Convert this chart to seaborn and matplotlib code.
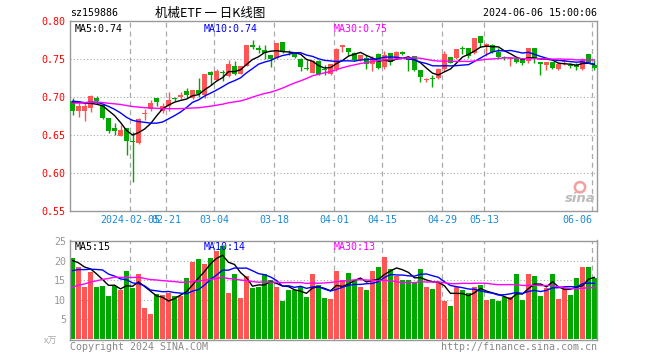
import numpy as np
import pandas as pd
import matplotlib
matplotlib.use("Agg")
import matplotlib.pyplot as plt
import seaborn as sns

# ---------------- data ----------------
opens = [0.6943, 0.6812, 0.6812, 0.6851, 0.6978, 0.6895, 0.6716, 0.6594, 0.6489, 0.6585,
         0.6420, 0.6388, 0.6773, 0.6834, 0.6978, 0.6812, 0.6873, 0.6985, 0.6996, 0.7083,
         0.6987, 0.7092, 0.7018, 0.7325, 0.7215, 0.7325, 0.7276, 0.7408, 0.7303, 0.7408,
         0.7684, 0.7636, 0.7610, 0.7544, 0.7504, 0.7715, 0.7595, 0.7580, 0.7500, 0.7372,
         0.7316, 0.7474, 0.7361, 0.7298, 0.7360, 0.7654, 0.7645, 0.7570, 0.7478, 0.7509,
         0.7430, 0.7557, 0.7386, 0.7570, 0.7513, 0.7588, 0.7495, 0.7535, 0.7351, 0.7215,
         0.7245, 0.7241, 0.7360, 0.7526, 0.7504, 0.7645, 0.7636, 0.7579, 0.7798, 0.7667,
         0.7680, 0.7588, 0.7521, 0.7491, 0.7513, 0.7500, 0.7469, 0.7636, 0.7457, 0.7412,
         0.7457, 0.7360, 0.7451, 0.7412, 0.7421, 0.7360, 0.7557, 0.7412]
closes = [0.6812, 0.6873, 0.6873, 0.7017, 0.6939, 0.6716, 0.6550, 0.6550, 0.6559, 0.6419,
          0.6410, 0.6712, 0.6780, 0.6913, 0.6926, 0.6873, 0.6960, 0.6975, 0.7026, 0.7018,
          0.7092, 0.7031, 0.7294, 0.7281, 0.7333, 0.7316, 0.7430, 0.7298, 0.7399, 0.7675,
          0.7649, 0.7610, 0.7570, 0.7491, 0.7710, 0.7591, 0.7585, 0.7518, 0.7395, 0.7368,
          0.7474, 0.7298, 0.7355, 0.7425, 0.7632, 0.7675, 0.7588, 0.7478, 0.7544, 0.7430,
          0.7513, 0.7377, 0.7544, 0.7460, 0.7588, 0.7557, 0.7480, 0.7351, 0.7259, 0.7237,
          0.7228, 0.7360, 0.7557, 0.7447, 0.7623, 0.7627, 0.7535, 0.7776, 0.7702, 0.7689,
          0.7588, 0.7526, 0.7513, 0.7513, 0.7460, 0.7447, 0.7636, 0.7504, 0.7434, 0.7457,
          0.7382, 0.7434, 0.7465, 0.7403, 0.7390, 0.7500, 0.7447, 0.7382]
highs = [0.6987, 0.6930, 0.6930, 0.7025, 0.7017, 0.6904, 0.6716, 0.6650, 0.6633, 0.6585,
         0.6541, 0.6720, 0.6834, 0.6956, 0.6978, 0.6913, 0.7066, 0.7000, 0.7061, 0.7110,
         0.7092, 0.7250, 0.7300, 0.7342, 0.7368, 0.7351, 0.7478, 0.7465, 0.7410, 0.7684,
         0.7750, 0.7684, 0.7684, 0.7544, 0.7710, 0.7724, 0.7616, 0.7588, 0.7504, 0.7487,
         0.7478, 0.7478, 0.7412, 0.7425, 0.7640, 0.7680, 0.7645, 0.7588, 0.7548, 0.7544,
         0.7535, 0.7579, 0.7600, 0.7570, 0.7597, 0.7601, 0.7510, 0.7535, 0.7351, 0.7250,
         0.7289, 0.7382, 0.7601, 0.7526, 0.7632, 0.7667, 0.7645, 0.7776, 0.7798, 0.7710,
         0.7689, 0.7645, 0.7535, 0.7513, 0.7513, 0.7513, 0.7636, 0.7636, 0.7457, 0.7457,
         0.7457, 0.7457, 0.7474, 0.7447, 0.7447, 0.7513, 0.7557, 0.7482]
lows = [0.6764, 0.6733, 0.6680, 0.6803, 0.6900, 0.6703, 0.6524, 0.6493, 0.6480, 0.6235,
        0.5881, 0.6375, 0.6690, 0.6812, 0.6873, 0.6790, 0.6812, 0.6948, 0.6965, 0.6987,
        0.6974, 0.7000, 0.6987, 0.7149, 0.7206, 0.7206, 0.7263, 0.7285, 0.7294, 0.7399,
        0.7632, 0.7570, 0.7491, 0.7395, 0.7500, 0.7580, 0.7555, 0.7504, 0.7333, 0.7355,
        0.7307, 0.7285, 0.7285, 0.7285, 0.7338, 0.7588, 0.7544, 0.7465, 0.7469, 0.7360,
        0.7333, 0.7360, 0.7360, 0.7412, 0.7500, 0.7544, 0.7340, 0.7338, 0.7197, 0.7193,
        0.7132, 0.7228, 0.7338, 0.7438, 0.7491, 0.7566, 0.7513, 0.7566, 0.7658, 0.7535,
        0.7579, 0.7500, 0.7478, 0.7403, 0.7447, 0.7412, 0.7447, 0.7447, 0.7285, 0.7355,
        0.7360, 0.7351, 0.7412, 0.7377, 0.7351, 0.7351, 0.7438, 0.7351]
volumes = [20.8, 18.5, 13.4, 17.2, 13.4, 13.6, 10.9, 13.6, 12.4, 17.5,
           12.9, 16.5, 7.8, 6.3, 11.4, 11.2, 11.6, 10.9, 10.9, 15.7,
           19.8, 20.6, 19.3, 20.8, 22.6, 23.9, 11.6, 16.5, 10.4, 16.0,
           12.9, 13.2, 16.5, 15.0, 13.4, 9.6, 12.4, 12.4, 13.2, 10.6,
           16.5, 13.9, 10.4, 10.1, 17.5, 15.2, 17.0, 15.0, 13.2, 12.4,
           17.3, 18.5, 21.1, 17.8, 16.2, 15.0, 15.0, 14.2, 18.0, 13.2,
           12.7, 14.4, 9.6, 8.3, 13.2, 12.4, 11.6, 13.4, 13.9, 9.8,
           10.1, 9.6, 10.6, 10.6, 16.7, 9.8, 16.7, 16.2, 10.9, 12.9,
           16.5, 10.1, 12.9, 11.1, 15.5, 18.3, 18.5, 15.5]
# sessions before the visible window (only feed the moving averages)
prior_close = [0.684, 0.679, 0.681, 0.686, 0.690, 0.683, 0.678, 0.680, 0.684, 0.681,
               0.694, 0.699, 0.703, 0.705, 0.701, 0.698, 0.700,
               0.697, 0.694, 0.692, 0.695, 0.699, 0.697, 0.694, 0.693, 0.688, 0.693, 0.703, 0.700]
prior_vol = [3.0, 3.6, 2.8, 3.4, 3.1, 3.5, 3.2,
             14.2, 16.8, 15.0, 13.9, 17.2, 15.6, 14.1, 16.3, 15.5, 14.8, 16.0, 15.1, 14.4,
             15.8, 13.6, 16.2, 14.0, 14.9,
             21.5, 18.8, 19.6, 19.8]
date_labels = ["2024-02-05", "02-21", "03-04", "03-18", "04-01", "04-15", "04-29", "05-13", "06-06"]
date_index = [10, 16, 24, 34, 44, 52, 62, 69, 87]
price_ticks = [0.55, 0.60, 0.65, 0.70, 0.75, 0.80]
vol_ticks = [5, 10, 15, 20, 25]

# ---------------- style ----------------
sns.set_theme(style="white")
plt.rcParams["font.family"] = ["DejaVu Sans Mono", "Noto Sans CJK SC"]

RED = "#FF5555"
GREEN = "#00A800"
GRID = "#AAAAAA"
SPINE = "#999999"
BLUE_TXT = "#1A8AD4"
MA_COLORS = {5: "#000000", 10: "#0000FF", 30: "#FF00FF"}

n = len(closes)
x = np.arange(n)
up = np.array(closes) >= np.array(opens)
colors = np.where(up, RED, GREEN)

full_close = pd.Series(prior_close + closes)
full_vol = pd.Series(prior_vol + volumes)
k = len(prior_close)
ma_price = {p: full_close.rolling(p).mean().values[k:] for p in (5, 10, 30)}
ma_vol = {p: full_vol.rolling(p).mean().values[k:] for p in (5, 10, 30)}

W, H = 660, 360
fig = plt.figure(figsize=(6.6, 3.6), dpi=100)
fig.patch.set_facecolor("white")

def fx(px):
    return px / W

def fy(py):
    return 1 - py / H

L, R = 70, 597
ax = fig.add_axes([fx(L), fy(211), fx(R - L), fy(20.7) - fy(211)])
axv = fig.add_axes([fx(L), fy(339.5), fx(R - L), fy(240.5) - fy(339.5)])

xlim = (-0.42, n - 0.58)
vpos = [i - 0.42 for i in date_index]

for a in (ax, axv):
    a.set_facecolor("white")
    for s in a.spines.values():
        s.set_color(SPINE)
        s.set_linewidth(1.0)
    a.set_xlim(*xlim)
    for v in vpos:
        a.axvline(v, color=GRID, lw=0.9, ls=(0, (4, 3)), zorder=0)

# ---------------- price panel ----------------
ax.set_ylim(0.55, 0.80)
for t in price_ticks[1:-1]:
    ax.axhline(t, color=GRID, lw=0.8, ls=(0, (1, 2)), zorder=0)

body_w = 0.78
for i in range(n):
    o, c, h, l = opens[i], closes[i], highs[i], lows[i]
    col = colors[i]
    ax.vlines(i, l, h, color=col, lw=1.0, zorder=2)
    bottom = min(o, c)
    height = max(abs(c - o), 0.0009)
    ax.bar(i, height, bottom=bottom, width=body_w, color=col, linewidth=0, zorder=3)

for p in (5, 10, 30):
    sns.lineplot(x=x, y=ma_price[p], ax=ax, color=MA_COLORS[p], lw=1.0, zorder=4)

ax.set_yticks(price_ticks)
ax.set_yticklabels([f"{t:.2f}" for t in price_ticks])
ax.tick_params(axis="y", length=0, pad=3, labelsize=7.2, labelcolor="#FF0000")
ax.set_xticks(vpos)
ax.set_xticklabels(date_labels)
ax.tick_params(axis="x", length=0, pad=3, labelsize=7.2, labelcolor=BLUE_TXT)
ax.get_xticklabels()[-1].set_horizontalalignment("right")
ax.set_xlabel("")
ax.set_ylabel("")

ax.text(0.008, 0.985, f"MA5:{ma_price[5][-1]:.2f}", transform=ax.transAxes,
        color=MA_COLORS[5], fontsize=7.2, va="top", ha="left")
ax.text((204 - L) / (R - L), 0.985, f"MA10:{ma_price[10][-1]:.2f}", transform=ax.transAxes,
        color=MA_COLORS[10], fontsize=7.2, va="top", ha="left")
ax.text((334 - L) / (R - L), 0.985, f"MA30:{ma_price[30][-1]:.2f}", transform=ax.transAxes,
        color=MA_COLORS[30], fontsize=7.2, va="top", ha="left")

# sina watermark
ax.text(0.998, 0.03, "sina", transform=ax.transAxes, ha="right", va="bottom",
        color="#BBBBBB", fontsize=9.5, fontweight="bold", style="italic", family="DejaVu Sans")
ax.scatter([(580 - L) / (R - L)], [0.125], transform=ax.transAxes, s=55,
           facecolors="none", edgecolors="#F4A0A0", linewidths=1.8, zorder=5)

# ---------------- volume panel ----------------
axv.set_ylim(-0.25, 25.25)
for t in vol_ticks[:-1]:
    axv.axhline(t, color=GRID, lw=0.8, ls=(0, (1, 2)), zorder=0)
axv.bar(x, volumes, width=0.82, color=colors, linewidth=0, zorder=2)
for p in (5, 10, 30):
    sns.lineplot(x=x, y=ma_vol[p], ax=axv, color=MA_COLORS[p], lw=1.0, zorder=4)
axv.set_yticks(vol_ticks)
axv.set_yticklabels([str(t) for t in vol_ticks])
axv.tick_params(axis="y", length=0, pad=3, labelsize=7.2, labelcolor="#999999")
axv.set_xticks([])
axv.set_xlabel("")
axv.set_ylabel("")

axv.text(0.008, 0.985, f"MA5:{int(ma_vol[5][-1])}", transform=axv.transAxes,
         color=MA_COLORS[5], fontsize=7.2, va="top", ha="left")
axv.text((204 - L) / (R - L), 0.985, f"MA10:{int(ma_vol[10][-1])}", transform=axv.transAxes,
         color=MA_COLORS[10], fontsize=7.2, va="top", ha="left")
axv.text((334 - L) / (R - L), 0.985, f"MA30:{int(ma_vol[30][-1])}", transform=axv.transAxes,
         color=MA_COLORS[30], fontsize=7.2, va="top", ha="left")

# ---------------- header / footer ----------------
fig.text(fx(70), fy(13), "sz159886", fontsize=7.2, color="#000000", ha="left", va="center")
fig.text(fx(210), fy(13), "机械ETF 一 日K线图", fontsize=9, color="#000000", ha="center", va="center",
         family=["Noto Sans CJK SC", "DejaVu Sans"])
fig.text(fx(597), fy(13), "2024-06-06 15:00:06", fontsize=7.2, color="#000000", ha="right", va="center")
fig.text(fx(57), fy(341), "x万", fontsize=6.5, color="#AAAAAA", ha="right", va="center",
         family=["Noto Sans CJK SC", "DejaVu Sans"])
fig.text(fx(70), fy(347), "Copyright 2024 SINA.COM", fontsize=7.2, color="#888888", ha="left", va="center")
fig.text(fx(597), fy(347), "http://finance.sina.com.cn", fontsize=7.2, color="#888888", ha="right", va="center")

fig.savefig("out.png", dpi=100, facecolor="white")
